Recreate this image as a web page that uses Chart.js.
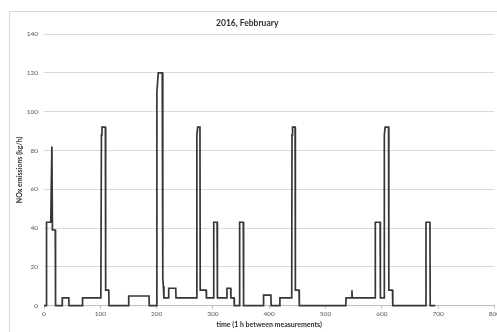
<!DOCTYPE html>
<html><head><meta charset="utf-8">
<script src="https://cdn.jsdelivr.net/npm/chart.js@4/dist/chart.umd.min.js"></script>
<style>
html,body{margin:0;padding:0;background:#fff;overflow:hidden;}
#frame{position:absolute;left:9px;top:11px;width:600px;height:400px;border:1px solid #d9d9d9;}
#wrap{position:absolute;left:0;top:0;width:497px;height:332px;}
</style></head><body>
<div id="frame"></div>
<div id="wrap"><canvas id="c" width="497" height="332"></canvas></div>
<script>
// breakpoints of the hourly series (hour index, NOx kg/h)
const hours = [0,4,4.5,12,14,15,20,20.5,32,32.5,44,44.5,68,68.5,101,102,103,109,109.5,115,115.5,
  150,150.5,186.5,187,200,200.5,203,210,211,212,213,221,221.5,234,234.5,271,271.5,273,277,277.5,288,288.5,
  301,301.5,307.5,308,324.5,325,331.5,332,337.5,338,347,347.5,354,354.5,389.5,390,403,403.5,418.5,419,
  440,440.5,441.5,446,446.5,453,453.5,536,536.5,546,547,547.5,588,588.5,597,597.5,604,604.5,606,612,612.5,
  619,619.5,678,678.5,685.5,686,695];
const nox = [0,0,43,43,82,39,39,0,0,4,4,0,0,4,4,88,92,92,8,8,0,
  0,5,5,0,0,110,120,120,14,10,4,4,9,9,4,4,88,92,92,8,8,4,
  4,43,43,4,4,9,9,4,4,0,0,43,43,0,0,5.5,5.5,0,0,4,
  4,88,92,92,8,8,0,0,4,4,8,4,4,43,43,4,4,88,92,92,8,
  8,0,0,43,43,0,0];
const xTicks = [0,100,200,300,400,500,600,700,800];
const yTicks = [0,20,40,60,80,100,120,140];
const chartTitle = '2016, Febbruary';
const xTitle = 'time (1 h between measurements)';
const yTitle = 'NOx emissions (kg/h)';

const FONT = 'Lato, "Open Sans", sans-serif';
new Chart(document.getElementById('c'), {
  type: 'line',
  data: {
    datasets: [{
      data: hours.map((h, i) => ({x: h, y: nox[i]})),
      borderColor: '#363636',
      borderWidth: 1.7,
      pointRadius: 0,
      tension: 0,
      fill: false,
      clip: 3
    }]
  },
  options: {
    responsive: false,
    animation: false,
    devicePixelRatio: 1,
    layout: {padding: {left: 0, right: 2.6, top: 0, bottom: 0}},
    plugins: {
      legend: {display: false},
      tooltip: {enabled: false},
      title: {
        display: true, text: chartTitle, color: '#303030',
        font: {family: FONT, size: 8.5, weight: 'bold'},
        padding: {top: 17.9, bottom: 5.9}
      }
    },
    scales: {
      x: {
        type: 'linear', min: 0, max: 800,
        afterBuildTicks: s => { s.ticks = xTicks.map(v => ({value: v})); },
        ticks: {color: '#595959', font: {family: FONT, size: 6.5}, padding: 1.5, maxRotation: 0, autoSkip: false},
        grid: {display: true, drawOnChartArea: false, drawTicks: true, tickLength: 3, color: '#bfbfbf'},
        border: {display: true, color: '#bfbfbf', width: 1},
        title: {display: true, text: xTitle, color: '#303030', font: {family: FONT, size: 7, weight: 'bold'}, padding: {top: 0, bottom: 2.8}},
        afterFit: s => { s.height = 26.3; s.paddingLeft = 0; s.paddingRight = 0; }
      },
      y: {
        min: 0, max: 140,
        afterBuildTicks: s => { s.ticks = yTicks.map(v => ({value: v})); },
        ticks: {color: '#595959', font: {family: FONT, size: 6.5}, padding: 6},
        grid: {color: '#d9d9d9', drawTicks: false, lineWidth: 1},
        border: {display: false},
        title: {display: true, text: yTitle, color: '#303030', font: {family: FONT, size: 7, weight: 'bold'}, padding: {top: 15.8, bottom: 0}},
        afterFit: s => { s.width = 44; s.paddingTop = 0; s.paddingBottom = 0; }
      }
    }
  }
});
</script>
</body></html>
